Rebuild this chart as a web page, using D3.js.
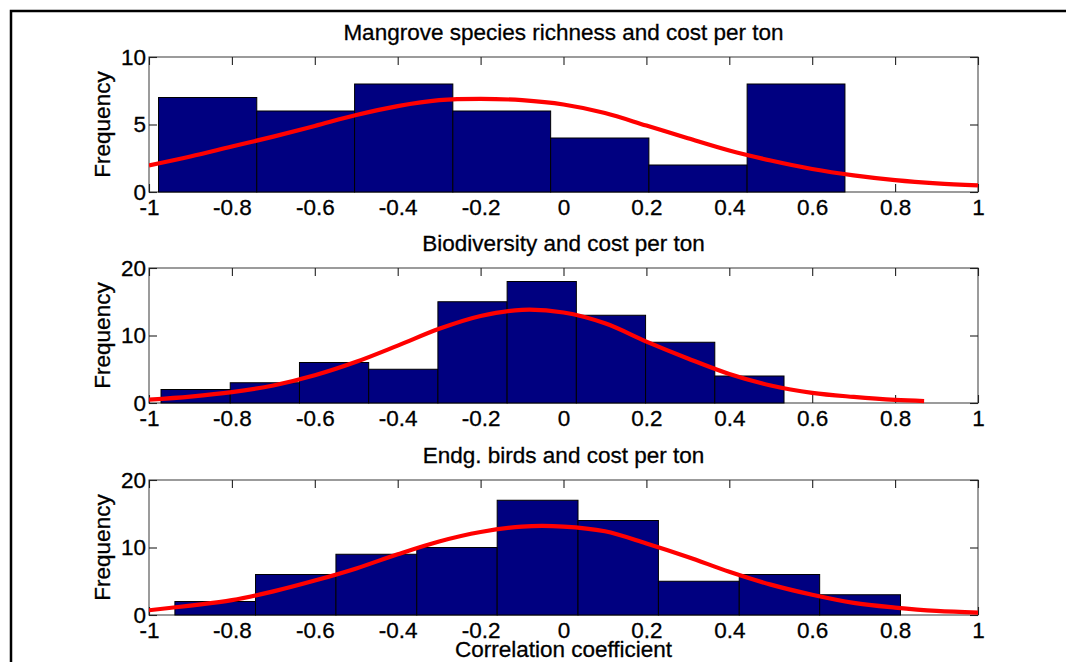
<!DOCTYPE html>
<html>
<head>
<meta charset="utf-8">
<script src="https://cdn.jsdelivr.net/npm/d3@7"></script>
<style>
  html, body { margin: 0; padding: 0; background: #fff; }
  svg { display: block; }
  text { stroke: #000; stroke-width: 0.3px; }
</style>
</head>
<body>
<svg id="chart" width="1066" height="662"></svg>
<script>
// Correlation coefficient histograms with fitted normal curves

const xTicks = [-1, -0.8, -0.6, -0.4, -0.2, 0, 0.2, 0.4, 0.6, 0.8, 1];
const xTickLabels = ["-1", "-0.8", "-0.6", "-0.4", "-0.2", "0", "0.2", "0.4", "0.6", "0.8", "1"];

// Panel 1: mangrove species richness
const mangroveTitle = "Mangrove species richness and cost per ton";
const mangroveEdges = [-0.977, -0.740, -0.504, -0.267, -0.031, 0.206, 0.443, 0.679];
const mangroveCounts = [7, 6, 8, 6, 4, 2, 8];
const mangroveYTicks = [0, 5, 10];
const mangroveFitX = [-1, -0.9, -0.8, -0.7, -0.6, -0.5, -0.4, -0.3, -0.2, -0.1, 0, 0.1, 0.2, 0.3, 0.4, 0.5, 0.6, 0.7, 0.8, 0.9, 1];
const mangroveFitY = [1.97, 2.63, 3.37, 4.1, 4.89, 5.7, 6.36, 6.8, 6.9, 6.8, 6.48, 5.85, 4.92, 3.98, 3.07, 2.33, 1.7, 1.23, 0.88, 0.64, 0.49];

// Panel 2: biodiversity
const bioTitle = "Biodiversity and cost per ton";
const bioEdges = [-0.971, -0.804, -0.637, -0.470, -0.303, -0.136, 0.031, 0.198, 0.365, 0.532];
const bioCounts = [2, 3, 6, 5, 15, 18, 13, 9, 4];
const bioYTicks = [0, 10, 20];
const bioFitX = [-1, -0.9, -0.8, -0.7, -0.6, -0.5, -0.4, -0.3, -0.2, -0.1, 0, 0.1, 0.2, 0.3, 0.4, 0.5, 0.6, 0.7, 0.8, 0.87];
const bioFitY = [0.5, 0.95, 1.6, 2.6, 4.1, 6.1, 8.5, 11.0, 12.9, 13.8, 13.4, 11.8, 9.1, 6.6, 4.3, 2.6, 1.5, 0.9, 0.45, 0.28];

// Panel 3: endangered birds
const birdsTitle = "Endg. birds and cost per ton";
const birdsEdges = [-0.9375, -0.743, -0.549, -0.354, -0.160, 0.035, 0.229, 0.424, 0.618, 0.813];
const birdsCounts = [2, 6, 9, 10, 17, 14, 5, 6, 3];
const birdsYTicks = [0, 10, 20];
const birdsFitX = [-1, -0.9, -0.8, -0.7, -0.6, -0.5, -0.4, -0.3, -0.2, -0.1, 0, 0.1, 0.2, 0.3, 0.4, 0.5, 0.6, 0.7, 0.8, 0.9, 1];
const birdsFitY = [0.7, 1.4, 2.2, 3.5, 5.1, 6.9, 9.0, 10.9, 12.3, 13.1, 13.1, 12.4, 10.6, 8.6, 6.4, 4.5, 3.0, 1.8, 1.1, 0.6, 0.35];

const xAxisLabel = "Correlation coefficient";
const yAxisLabel = "Frequency";

const panels = [
  { title: mangroveTitle, edges: mangroveEdges, counts: mangroveCounts, yTicks: mangroveYTicks, fitX: mangroveFitX, fitY: mangroveFitY, top: 57 },
  { title: bioTitle, edges: bioEdges, counts: bioCounts, yTicks: bioYTicks, fitX: bioFitX, fitY: bioFitY, top: 268 },
  { title: birdsTitle, edges: birdsEdges, counts: birdsCounts, yTicks: birdsYTicks, fitX: birdsFitX, fitY: birdsFitY, top: 480 }
];

const FONT = "'Liberation Sans', Arial, Helvetica, sans-serif";
const FS = 22.5;
const plotLeft = 149, plotRight = 978, plotH = 135;
const svg = d3.select("#chart");

// outer frame (left and top edges)
svg.append("path")
  .attr("d", "M11,662 V11 H1066")
  .attr("fill", "none")
  .attr("stroke", "#000")
  .attr("stroke-width", 2.5);

const x = d3.scaleLinear().domain([-1, 1]).range([plotLeft, plotRight]);

panels.forEach((p, i) => {
  const top = p.top, bottom = top + plotH;
  const y = d3.scaleLinear().domain([p.yTicks[0], p.yTicks[p.yTicks.length - 1]]).range([bottom, top]);
  const g = svg.append("g");

  const clipId = "clip" + i;
  svg.append("clipPath").attr("id", clipId)
    .append("rect").attr("x", plotLeft).attr("y", top - 3).attr("width", plotRight - plotLeft).attr("height", plotH + 6);

  // axes box
  g.append("rect")
    .attr("x", plotLeft).attr("y", top)
    .attr("width", plotRight - plotLeft).attr("height", plotH)
    .attr("fill", "none").attr("stroke", "#4a4a4a").attr("stroke-width", 1.1);

  const styleAxis = (ax) => {
    ax.select(".domain").remove();
    ax.selectAll(".tick line").attr("stroke", "#222").attr("stroke-width", 1.1);
    ax.selectAll("text").attr("fill", "#000").attr("font-family", FONT).attr("font-size", FS);
    ax.attr("font-family", FONT).attr("font-size", FS);
  };

  g.append("g").attr("transform", `translate(0,${bottom})`)
    .call(d3.axisBottom(x).tickValues(xTicks).tickFormat((d, k) => xTickLabels[k]).tickSizeInner(-8).tickSizeOuter(0).tickPadding(7))
    .call(styleAxis);
  g.append("g").attr("transform", `translate(0,${top})`)
    .call(d3.axisTop(x).tickValues(xTicks).tickFormat("").tickSizeInner(-8).tickSizeOuter(0))
    .call(styleAxis);
  g.append("g").attr("transform", `translate(${plotLeft},0)`)
    .call(d3.axisLeft(y).tickValues(p.yTicks).tickFormat(d3.format("d")).tickSizeInner(-8).tickSizeOuter(0).tickPadding(3))
    .call(styleAxis);
  g.append("g").attr("transform", `translate(${plotRight},0)`)
    .call(d3.axisRight(y).tickValues(p.yTicks).tickFormat("").tickSizeInner(-8).tickSizeOuter(0))
    .call(styleAxis);

  // histogram bars
  g.append("g").selectAll("rect")
    .data(p.counts)
    .join("rect")
    .attr("x", (d, k) => x(p.edges[k]))
    .attr("width", (d, k) => x(p.edges[k + 1]) - x(p.edges[k]))
    .attr("y", d => y(d))
    .attr("height", d => y(0) - y(d))
    .attr("fill", "#000080")
    .attr("stroke", "#000")
    .attr("stroke-width", 1);

  // fitted normal curve
  const line = d3.line()
    .x((d, k) => x(p.fitX[k]))
    .y(d => y(d))
    .curve(d3.curveCatmullRom);
  g.append("path")
    .datum(p.fitY)
    .attr("clip-path", `url(#${clipId})`)
    .attr("d", line)
    .attr("fill", "none")
    .attr("stroke", "#ff0000")
    .attr("stroke-width", 4.2)
    .attr("stroke-linejoin", "round");

  // title
  g.append("text")
    .attr("x", (plotLeft + plotRight) / 2)
    .attr("y", top - 17)
    .attr("text-anchor", "middle")
    .attr("font-family", FONT).attr("font-size", FS)
    .text(p.title);

  // y label
  g.append("text")
    .attr("transform", `translate(110,${top + plotH / 2}) rotate(-90)`)
    .attr("text-anchor", "middle")
    .attr("font-family", FONT).attr("font-size", FS)
    .text(yAxisLabel);
});

svg.append("text")
  .attr("x", (plotLeft + plotRight) / 2)
  .attr("y", 657)
  .attr("text-anchor", "middle")
  .attr("font-family", FONT).attr("font-size", FS)
  .text(xAxisLabel);
</script>
</body>
</html>
